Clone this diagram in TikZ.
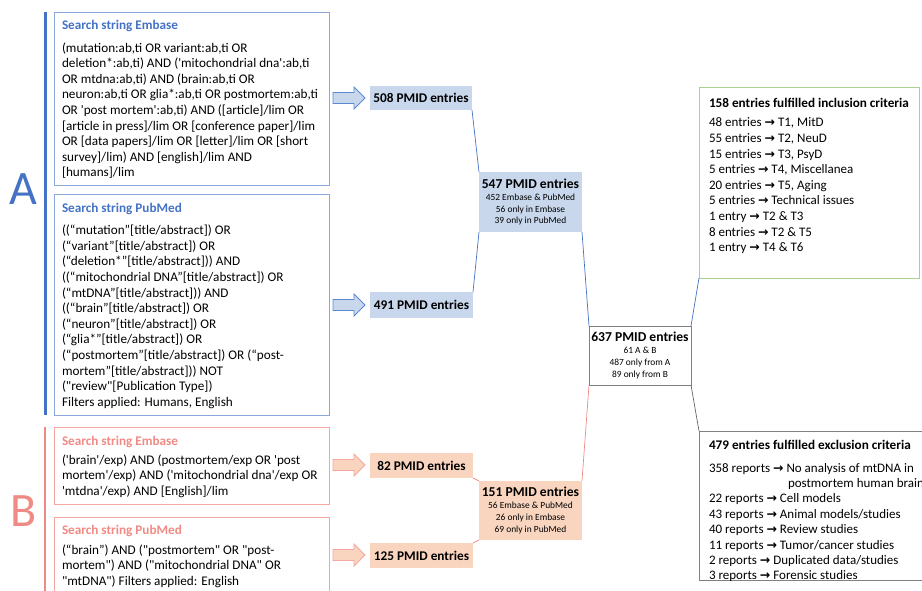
\documentclass[tikz,border=0pt]{standalone}
\usepackage{fontspec}
\newfontfamily\calfont{Carlito}
\newfontfamily\arwfont{DejaVu Sans}
\definecolor{ablue}{HTML}{4472C4}
\definecolor{aboxc}{HTML}{8AA8DC}
\definecolor{afill}{HTML}{C8D7EC}
\definecolor{aarrow}{HTML}{5B8AD0}
\definecolor{bred}{HTML}{F08A84}
\definecolor{bboxc}{HTML}{F4A6A0}
\definecolor{bfill}{HTML}{F9D5BF}
\definecolor{ggreen}{HTML}{A9D18E}
\definecolor{ggray}{HTML}{808080}
\newcommand\ra{{\arwfont\bfseries\fontsize{12.5}{10}\selectfont →}}
\newcommand\blkarrow[4]{% x y fill draw
  \path[fill=#3,draw=#4,line width=0.8pt] (#1,#2-5.5) -- (#1+21,#2-5.5) -- (#1+21,#2-11) -- (#1+32,#2) -- (#1+21,#2+11) -- (#1+21,#2+5.5) -- (#1,#2+5.5) -- cycle;}
\begin{document}
\begin{tikzpicture}[x=1pt,y=-1pt,
  every node/.style={inner sep=0pt,outer sep=0pt},
  abox/.style={draw=aboxc,line width=0.9pt,anchor=north west,rectangle},
  bbox/.style={draw=bboxc,line width=0.9pt,anchor=north west,rectangle},
  body/.style={anchor=north west,align=left,font=\calfont\fontsize{13.2}{15.6}\selectfont},
  rbody/.style={anchor=north west,align=left,font=\calfont\fontsize{13}{15.6}\selectfont},
  rhead/.style={anchor=north west,font=\calfont\bfseries\fontsize{13.2}{15}\selectfont},
  atitle/.style={anchor=north west,font=\calfont\bfseries\fontsize{13.2}{15}\selectfont,text=ablue},
  btitle/.style={anchor=north west,font=\calfont\bfseries\fontsize{13.2}{15}\selectfont,text=bred},
  cnt/.style={font=\calfont\bfseries\fontsize{13.3}{15}\selectfont,align=center},
  big/.style={align=center,font=\calfont\fontsize{9.4}{11.7}\selectfont},
  aline/.style={draw=ablue,line width=0.7pt},
  bline/.style={draw=bred,line width=0.7pt},
  gline/.style={draw=ggray!80!black,line width=0.7pt}]
\useasboundingbox (0,0) rectangle (922,591);
\clip (0,0) rectangle (922,591);

% A group
\draw[ablue,line width=3pt] (45,12) coordinate (atop) -- (45,415) coordinate (abot);
\node[font=\calfont\fontsize{48}{48}\selectfont,text=ablue] (la) at (23,189) {A};

\node[abox,minimum width=275pt,minimum height=173pt] (ae) at (54,12) {};
\node[atitle] (aet) at (62,20.5) {Search string Embase};
\node[body] (aeb) at (62,42.5) {(mutation:ab,ti OR variant:ab,ti OR\\
deletion*:ab,ti) AND ('mitochondrial dna':ab,ti\\
OR mtdna:ab,ti) AND (brain:ab,ti OR\\
neuron:ab,ti OR glia*:ab,ti OR postmortem:ab,ti\\
OR 'post mortem':ab,ti) AND ([article]/lim OR\\{}%
[article in press]/lim OR [conference paper]/lim\\
OR [data papers]/lim OR [letter]/lim OR [short\\
survey]/lim) AND [english]/lim AND\\{}%
[humans]/lim};

\node[abox,minimum width=275pt,minimum height=221pt] (ap) at (54,194) {};
\node[atitle] (apt) at (62,203.5) {Search string PubMed};
\node[body] (apb) at (62,225) {((“mutation”[title/abstract]) OR\\
(“variant”[title/abstract]) OR\\
(“deletion*”[title/abstract])) AND\\
((“mitochondrial DNA”[title/abstract]) OR\\
(“mtDNA”[title/abstract])) AND\\
((“brain”[title/abstract]) OR\\
(“neuron”[title/abstract]) OR\\
(“glia*”[title/abstract]) OR\\
(“postmortem”[title/abstract]) OR (“post-\\
mortem”[title/abstract])) NOT\\
("review"[Publication Type])\\
Filters applied: Humans, English};

\blkarrow{333}{98}{afill}{aarrow}
\blkarrow{333}{305}{afill}{aarrow}

\node[cnt,fill=afill,minimum width=102pt,minimum height=24pt] (n508) at (421,98) {508 PMID entries};
\node[cnt,fill=afill,minimum width=103pt,minimum height=26pt] (n491) at (421.5,305) {491 PMID entries};
\node[big,fill=afill,minimum width=103pt,minimum height=60pt] (n547) at (530.5,202) {{\bfseries\fontsize{13.6}{14}\selectfont 547 PMID entries}\\[0.5pt]452 Embase \& PubMed\\56 only in Embase\\39 only in PubMed};

% B group
\draw[bred,line width=2.6pt] (45,427) coordinate (btop) -- (45,600) coordinate (bbot);
\node[font=\calfont\fontsize{48}{48}\selectfont,text=bred] (lb) at (24,511) {B};

\node[bbox,minimum width=275pt,minimum height=77pt] (be) at (54,427) {};
\node[btitle] (bet) at (62,436) {Search string Embase};
\node[body] (beb) at (62,454.5) {('brain'/exp) AND (postmortem/exp OR 'post\\
mortem'/exp) AND ('mitochondrial dna'/exp OR\\
'mtdna'/exp) AND [English]/lim};

\node[bbox,minimum width=275pt,minimum height=90pt] (bp) at (54,517) {};
\node[btitle] (bpt) at (62,525) {Search string PubMed};
\node[body] (bpb) at (62,544.5) {(“brain”) AND ("postmortem" OR "post-\\
mortem") AND ("mitochondrial DNA" OR\\
"mtDNA") Filters applied: English};

\blkarrow{333}{465}{bfill}{bboxc}
\blkarrow{333}{555}{bfill}{bboxc}

\node[cnt,fill=bfill,minimum width=103pt,minimum height=25pt] (n82) at (421.5,465.5) {82 PMID entries};
\node[cnt,fill=bfill,minimum width=103pt,minimum height=25pt] (n125) at (421.5,555.5) {125 PMID entries};
\node[big,fill=bfill,minimum width=103pt,minimum height=59pt] (n151) at (530.5,510.5) {{\bfseries\fontsize{13.6}{14}\selectfont 151 PMID entries}\\[0.5pt]56 Embase \& PubMed\\26 only in Embase\\69 only in PubMed};

% merged
\node[big,draw=ggray,line width=0.7pt,fill=white,minimum width=102pt,minimum height=59pt] (n637) at (640,355.5) {{\bfseries\fontsize{13.6}{14}\selectfont 637 PMID entries}\\[0.5pt]61 A \& B\\487 only from A\\89 only from B};

% results
\node[draw=ggreen,line width=0.9pt,anchor=north west,minimum width=220pt,minimum height=191pt] (inc) at (699,87) {};
\node[rhead] (inct) at (709,98) {158 entries fulfilled inclusion criteria};
\node[rbody] (incb) at (709,118) {48 entries \ra{} T1, MitD\\
55 entries \ra{} T2, NeuD\\
15 entries \ra{} T3, PsyD\\
5 entries \ra{} T4, Miscellanea\\
20 entries \ra{} T5, Aging\\
5 entries \ra{} Technical issues\\
1 entry \ra{} T2 \& T3\\
8 entries \ra{} T2 \& T5\\
1 entry \ra{} T4 \& T6};

\node[draw=ggray,line width=0.9pt,anchor=north west,minimum width=250pt,minimum height=149pt] (exc) at (699,431) {};
\node[rhead] (exct) at (709,440) {479 entries fulfilled exclusion criteria};
\node[rbody,font=\calfont\fontsize{13}{15.4}\selectfont] (excb) at (709,463) {358 reports \ra{} No analysis of mtDNA in\\
\hspace*{79pt}postmortem human brain\\
22 reports \ra{} Cell models\\
43 reports \ra{} Animal models/studies\\
40 reports \ra{} Review studies\\
11 reports \ra{} Tumor/cancer studies\\
2 reports \ra{} Duplicated data/studies\\
3 reports \ra{} Forensic studies};

% connectors
\draw[aline] (n508.south east) -- (n547.north west);
\draw[aline] (n491.north east) -- (n547.south west);
\draw[aline] (n547.south east) -- (n637.north west);
\draw[bline] (n82.south east) -- (n151.north west);
\draw[bline] (n125.north east) -- (n151.south west);
\draw[bline] (n151.north east) -- (n637.south west);
\draw[aline] (n637.north east) -- (inc.south west);
\draw[gline] (n637.south east) -- (exc.north west);
\end{tikzpicture}
\end{document}
